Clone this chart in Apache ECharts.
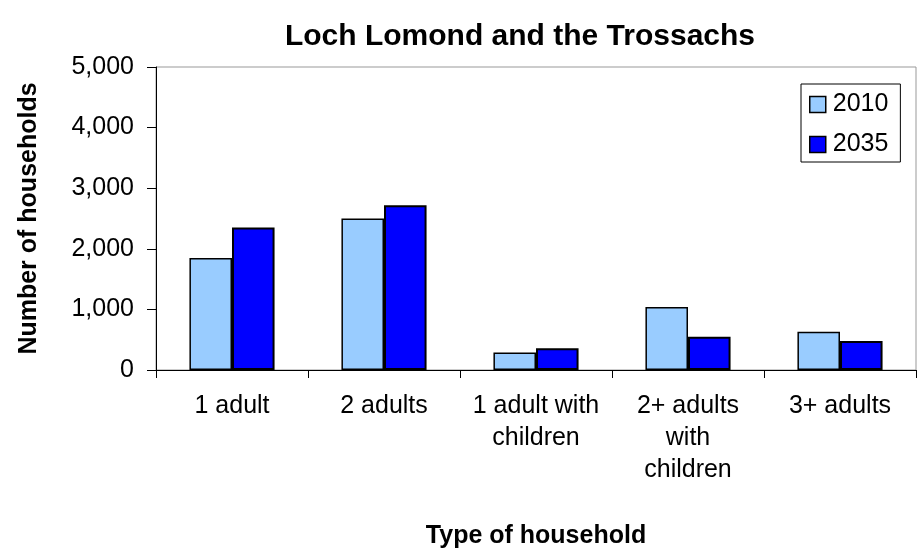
<!DOCTYPE html>
<html>
<head>
<meta charset="utf-8">
<script src="https://cdn.jsdelivr.net/npm/echarts@6/dist/echarts.min.js"></script>
<style>
  html, body { margin: 0; padding: 0; background: #fff; }
  #chart { width: 921px; height: 554px; }
</style>
</head>
<body>
<div id="chart"></div>
<script>
// household types and counts
var categories = ['1 adult', '2 adults', '1 adult with\nchildren', '2+ adults\nwith\nchildren', '3+ adults'];
var years = ['2010', '2035'];
var values2010 = [1850, 2500, 290, 1040, 630];
var values2035 = [2350, 2720, 360, 550, 480];
var yTicks = [0, 1000, 2000, 3000, 4000, 5000];

var font = 'Liberation Sans, Arial, sans-serif';

var chart = echarts.init(document.getElementById('chart'));
var option = {
  animation: false,
  title: {
    text: 'Loch Lomond and the Trossachs',
    left: 515,
    top: 17,
    textAlign: 'center',
    textStyle: { fontFamily: font, fontSize: 30, fontWeight: 'bold', color: '#000' }
  },
  legend: {
    data: years,
    orient: 'vertical',
    left: 801,
    top: 84,
    padding: [8, 12, 5, 8],
    itemGap: 15,
    itemWidth: 16,
    itemHeight: 16,
    icon: 'rect',
    borderColor: '#000',
    borderWidth: 1,
    itemStyle: { borderColor: '#000', borderWidth: 1.5 },
    textStyle: { fontFamily: font, fontSize: 25, color: '#000', padding: [0, 0, 0, 2] }
  },
  grid: {
    left: 156,
    top: 67,
    width: 760,
    height: 303,
    show: true,
    borderColor: '#999',
    borderWidth: 1
  },
  xAxis: {
    type: 'category',
    data: categories,
    name: 'Type of household',
    nameLocation: 'middle',
    nameGap: 154,
    nameTextStyle: { fontFamily: font, fontSize: 25, fontWeight: 'bold', color: '#000' },
    axisLine: { lineStyle: { color: '#000', width: 1 } },
    axisTick: { show: true, alignWithLabel: false, length: 8, lineStyle: { color: '#000' } },
    axisLabel: { fontFamily: font, fontSize: 25, color: '#000', margin: 20, lineHeight: 32, interval: 0 }
  },
  yAxis: {
    type: 'value',
    min: yTicks[0],
    max: yTicks[yTicks.length - 1],
    interval: 1000,
    name: 'Number of households',
    nameLocation: 'middle',
    nameGap: 114,
    nameTextStyle: { fontFamily: font, fontSize: 25, fontWeight: 'bold', color: '#000' },
    axisLine: { show: true, lineStyle: { color: '#000', width: 1 } },
    axisTick: { show: true, length: 9, lineStyle: { color: '#000' } },
    splitLine: { show: false },
    axisLabel: {
      fontFamily: font, fontSize: 25, color: '#000', margin: 22,
      formatter: function (v) { return v.toLocaleString('en-US'); }
    }
  },
  series: [
    {
      name: years[0],
      type: 'bar',
      data: values2010,
      barGap: '0%',
      barCategoryGap: '44%',
      itemStyle: { color: '#99ccff', borderColor: '#000', borderWidth: 1.5 }
    },
    {
      name: years[1],
      type: 'bar',
      data: values2035,
      itemStyle: { color: '#0000ff', borderColor: '#000', borderWidth: 2 }
    }
  ]
};
chart.setOption(option);
</script>
</body>
</html>
